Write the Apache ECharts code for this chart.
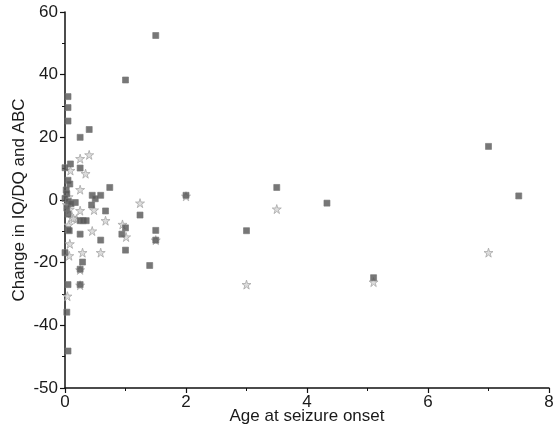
<!DOCTYPE html>
<html>
<head>
<meta charset="utf-8">
<script src="https://cdn.jsdelivr.net/npm/echarts@6/dist/echarts.min.js"></script>
<style>
  html, body { margin: 0; padding: 0; background: #fff; }
  #chart { width: 553px; height: 432px; }
</style>
</head>
<body>
<div id="chart"></div>
<script>
// Change in IQ/DQ (dark squares): [age at seizure onset, change]
const iqDqPoints = [
  [0.05, 33], [0.05, 29.5], [0.05, 25.2],
  [0.40, 22.5], [0.25, 20],
  [0.09, 11.5], [0.0, 10.3], [0.25, 10.2],
  [0.05, 6.3], [0.08, 5.1], [0.74, 4.0],
  [0.02, 3.2], [0.03, 2.0],
  [0.45, 1.5], [0.59, 1.5], [0.50, 0.4],
  [0.0, 0.5], [0.06, -0.5], [0.17, -0.8], [0.10, -1.2],
  [0.44, -1.6], [0.03, -2.6],
  [0.67, -3.5], [0.05, -4.5], [1.24, -4.8],
  [0.25, -6.6], [0.30, -6.6], [0.35, -6.6],
  [0.05, -9.5], [0.07, -9.8],
  [0.25, -10.9], [0.59, -12.8],
  [0.94, -10.9], [1.0, -8.9], [1.0, -16],
  [1.50, -9.7], [1.50, -12.8], [1.40, -20.9],
  [0.29, -19.8], [0.25, -22.1], [0.25, -27], [0.05, -27],
  [0.0, -16.8], [0.03, -35.8], [0.05, -48.2],
  [1.0, 38.3], [1.5, 52.5],
  [2.0, 1.5], [3.5, 4.0], [4.33, -1.0], [3.0, -9.8],
  [5.1, -24.8], [7.0, 17.1], [7.5, 1.3]
];

// Change in ABC (light stars): [age at seizure onset, change]
const abcPoints = [
  [0.25, 13.2], [0.40, 14.4], [0.34, 8.4], [0.09, 9.4], [0.25, 3.3],
  [0.06, 1.0], [0.03, -1.5], [0.08, -3],
  [0.25, -3.4], [0.48, -3.2], [0.67, -6.6], [0.45, -9.9],
  [0.11, -5.6], [0.19, -6.1], [0.14, -5.9], [0.06, -8.0],
  [0.95, -7.8], [1.01, -11.8], [1.24, -1.0],
  [0.29, -16.8], [0.59, -16.8], [0.08, -14.0], [0.07, -17.8],
  [0.25, -22.3], [0.25, -27.2], [1.5, -12.8],
  [0.04, -30.7],
  [2.0, 1.2], [3.5, -2.9], [3.0, -27.0], [5.1, -26.2], [7.0, -16.8]
];

// y tick positions and the text printed at each of them
const yTickValues = [-60, -40, -20, 0, 20, 40, 60];
const yTickText   = ['-50', '-40', '-20', '0', '20', '40', '60'];

const xTickValues = [0, 2, 4, 6, 8];

const starPath = 'path://M50,0 L61,35 L98,35 L68,57 L79,92 L50,70 L21,92 L32,57 L2,35 L39,35 Z';

const chart = echarts.init(document.getElementById('chart'), null, { renderer: 'canvas' });

const fontFamily = 'Liberation Sans, Arial, sans-serif';
const textColor = '#1a1a1a';

chart.setOption({
  animation: false,
  backgroundColor: '#ffffff',
  grid: {
    left: 65, right: 4, top: 12, bottom: 44,
    containLabel: false,
    outerBoundsMode: 'none'
  },
  xAxis: {
    type: 'value',
    min: 0, max: 8, interval: 2,
    name: 'Age at seizure onset',
    nameLocation: 'middle',
    nameGap: 20,
    nameMoveOverlap: false,
    nameTextStyle: { fontFamily, fontSize: 17, color: textColor },
    axisLine: { show: true, onZero: false, lineStyle: { color: '#111', width: 1.5 } },
    axisTick: { show: true, inside: false, length: 5, lineStyle: { color: '#111', width: 1.2 } },
    minorTick: { show: true, splitNumber: 2, length: 3, lineStyle: { color: '#111', width: 1 } },
    axisLabel: {
      margin: 6,
      fontFamily, fontSize: 17, color: textColor,
      formatter: v => xTickValues.includes(v) ? String(v) : ''
    },
    splitLine: { show: false }
  },
  yAxis: {
    type: 'value',
    min: -60, max: 60, interval: 20,
    name: 'Change in IQ/DQ and ABC',
    nameLocation: 'middle',
    nameGap: 37,
    nameMoveOverlap: false,
    nameTextStyle: { fontFamily, fontSize: 17, color: textColor },
    axisLine: { show: true, onZero: false, lineStyle: { color: '#111', width: 1.5 } },
    axisTick: { show: true, inside: false, length: 5, lineStyle: { color: '#111', width: 1.2 } },
    minorTick: { show: true, splitNumber: 2, length: 3, lineStyle: { color: '#111', width: 1 } },
    axisLabel: {
      margin: 7,
      fontFamily, fontSize: 17, color: textColor,
      formatter: v => {
        const i = yTickValues.indexOf(v);
        return i >= 0 ? yTickText[i] : '';
      }
    },
    splitLine: { show: false }
  },
  series: [
    {
      name: 'ABC',
      type: 'scatter',
      data: abcPoints,
      symbol: starPath,
      symbolSize: 9,
      itemStyle: { color: '#d4d4d4', borderColor: '#a8a8a8', borderWidth: 1 },
      z: 2
    },
    {
      name: 'IQ/DQ',
      type: 'scatter',
      data: iqDqPoints,
      symbol: 'rect',
      symbolSize: 6,
      itemStyle: { color: '#555555', borderColor: '#777777', borderWidth: 0.8 },
      z: 3
    }
  ]
});
</script>
</body>
</html>
